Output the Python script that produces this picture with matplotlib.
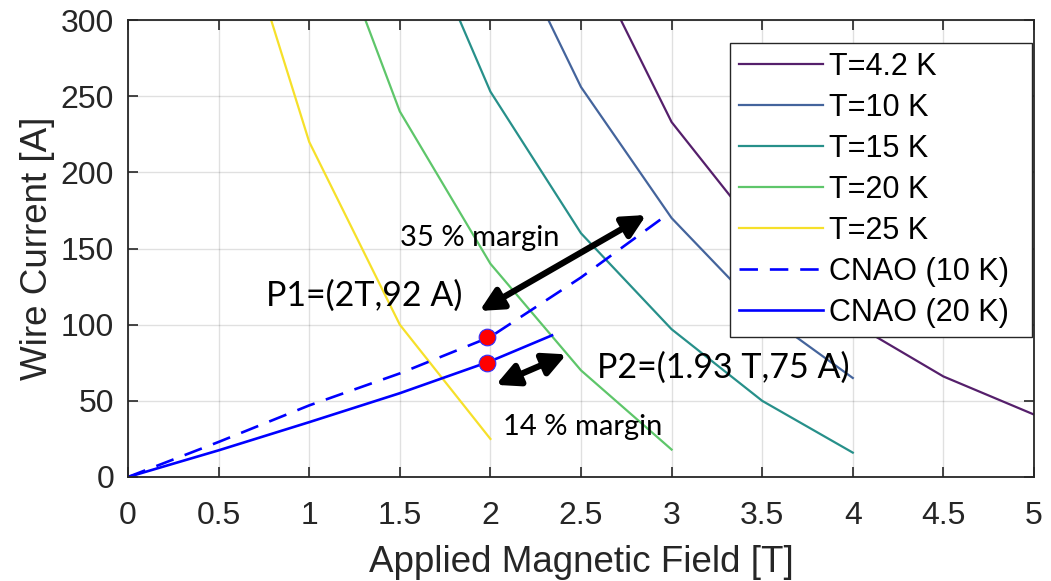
import numpy as np
import matplotlib
matplotlib.use("Agg")
from matplotlib import pyplot as plt
from matplotlib.patches import Rectangle

# ----- data -----
x_42 = [2.72, 3.0, 3.5, 4.0, 4.5, 5.0]
y_42 = [300, 233, 158, 101, 66, 41]
x_10 = [2.32, 2.5, 3.0, 3.5, 4.0]
y_10 = [300, 256, 170, 108, 65]
x_15 = [1.83, 2.0, 2.5, 3.0, 3.5, 4.0]
y_15 = [300, 253, 160, 97, 50, 16]
x_20 = [1.31, 1.5, 2.0, 2.5, 3.0]
y_20 = [300, 240, 140, 70, 18]
x_25 = [0.79, 1.0, 1.5, 2.0]
y_25 = [300, 220, 100, 25]

x_cnao10 = [0, 0.5, 1.0, 1.5, 2.0, 2.5, 2.95]
y_cnao10 = [0, 23, 47, 68, 92, 131, 170]
x_cnao20 = [0, 0.5, 1.0, 1.5, 2.0, 2.34]
y_cnao20 = [0, 17.5, 36, 55, 76, 93]

x_pts = [1.98, 1.98]
y_pts = [92, 75]

labels = ["T=4.2 K", "T=10 K", "T=15 K", "T=20 K", "T=25 K", "CNAO (10 K)", "CNAO (20 K)"]
colors = ["#551f6b", "#44649c", "#27908a", "#5ec66a", "#f6e02a"]

xticks = [0, 0.5, 1, 1.5, 2, 2.5, 3, 3.5, 4, 4.5, 5]
xticklabels = ["0", "0.5", "1", "1.5", "2", "2.5", "3", "3.5", "4", "4.5", "5"]
yticks = [0, 50, 100, 150, 200, 250, 300]

# ----- figure -----
plt.rcParams['font.family'] = ['Liberation Sans', 'DejaVu Sans']
fig = plt.figure(figsize=(10.51, 5.81), dpi=100)
ax = fig.add_axes([128/1051, 1-477/581, 906/1051, 457/581])

curves = [(x_42, y_42), (x_10, y_10), (x_15, y_15), (x_20, y_20), (x_25, y_25)]
for (xs, ys), c, lab in zip(curves, colors, labels[:5]):
    ax.plot(xs, ys, color=c, lw=1.6, label=lab)

ax.plot(x_cnao10, y_cnao10, color="#0000ff", lw=1.9, dashes=(7, 4.5), label=labels[5])
ax.plot(x_cnao20, y_cnao20, color="#0000ff", lw=1.9, label=labels[6])
ax.plot(x_pts, y_pts, 'o', ms=12, mfc="#ff0000", mec="#3030ff", mew=0.8, zorder=5)

# annotations
afont = dict(family=['Lato', 'DejaVu Sans'], color="black")
ax.annotate("", xy=(1.94, 109), xytext=(2.86, 172),
            arrowprops=dict(arrowstyle="<|-|>", color="black", lw=4.5, mutation_scale=34, shrinkA=0, shrinkB=0))
ax.annotate("", xy=(2.03, 60.5), xytext=(2.42, 80.5),
            arrowprops=dict(arrowstyle="<|-|>", color="black", lw=4.5, mutation_scale=34, shrinkA=0, shrinkB=0))
ax.text(1.50, 157, "35 % margin", fontsize=21, va="center", ha="left", **afont)
ax.text(2.07, 33, "14 % margin", fontsize=21, va="center", ha="left", **afont)
ax.text(0.76, 119, "P1=(2T,92 A)", fontsize=24.5, va="center", ha="left", **afont)
ax.text(2.59, 72, "P2=(1.93 T,75 A)", fontsize=24.5, va="center", ha="left", **afont)

# axes styling
ax.set_xlim(0, 5)
ax.set_ylim(0, 300)
ax.set_xticks(xticks)
ax.set_xticklabels(xticklabels)
ax.set_yticks(yticks)
ax.grid(True, color="#000000", alpha=0.12, lw=1)
ax.tick_params(direction="in", top=True, right=True, length=7, width=1.2,
               labelsize=23, colors="#262626")
ax.tick_params(axis="x", pad=17)
ax.tick_params(axis="y", pad=10)
for s in ax.spines.values():
    s.set_color("#262626")
    s.set_linewidth(1.3)
ax.set_xlabel("Applied Magnetic Field [T]", fontsize=26.5, color="#262626", labelpad=10)
ax.set_ylabel("Wire Current [A]", fontsize=26.5, color="#262626", labelpad=4)

# legend: MATLAB-like box drawn by hand, entries from matplotlib
box_x0, box_x1 = (730-128)/906, (1032-128)/906
box_y0, box_y1 = (477-337)/457, (477-43)/457
ax.add_patch(Rectangle((box_x0, box_y0), box_x1-box_x0, box_y1-box_y0, transform=ax.transAxes,
                       facecolor="white", edgecolor="#262626", lw=1.0, zorder=6))
leg = ax.legend(loc="upper left", bbox_to_anchor=(box_x0, box_y1), borderaxespad=0,
                fontsize=22, handlelength=2.75, labelspacing=0.36, handletextpad=0.2,
                frameon=False, borderpad=0.3)
leg.set_zorder(7)
for t in leg.get_texts():
    t.set_color("black")

fig.savefig("out.png", dpi=100)
